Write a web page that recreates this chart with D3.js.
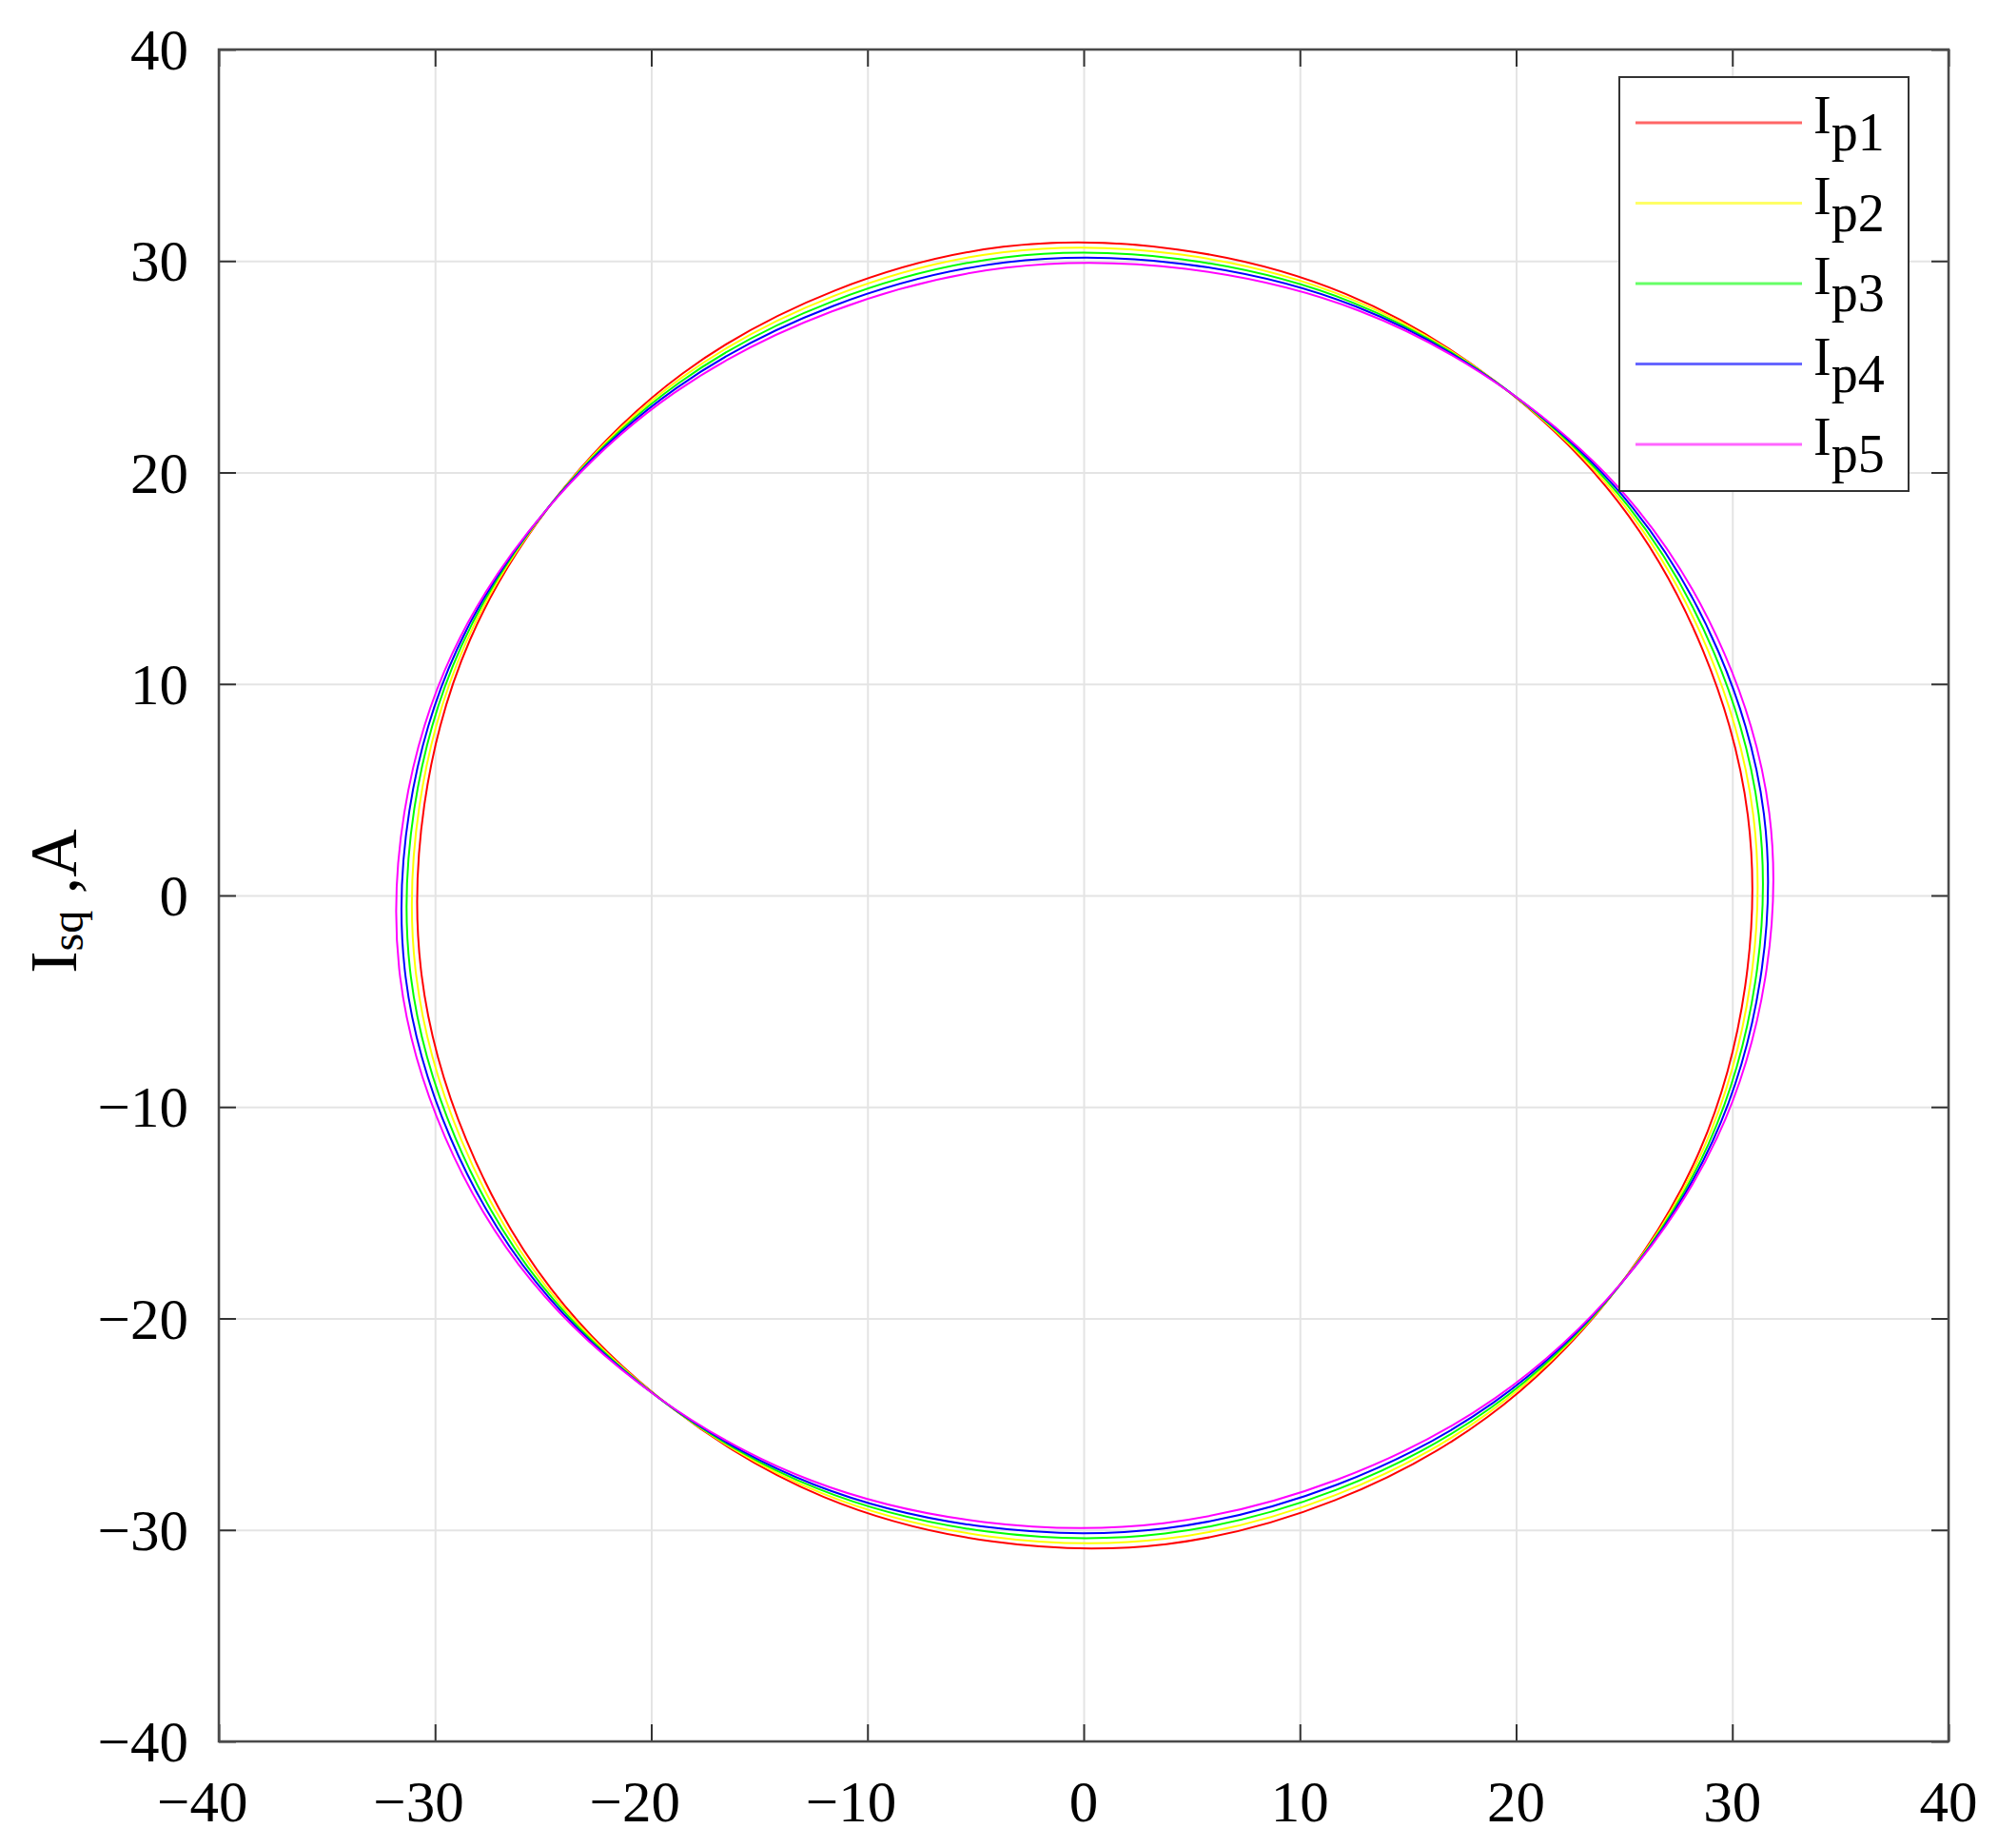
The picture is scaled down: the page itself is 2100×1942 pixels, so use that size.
<!DOCTYPE html>
<html>
<head>
<meta charset="utf-8">
<script src="https://cdn.jsdelivr.net/npm/d3@7"></script>
<style>
	body { margin: 0; background: #fff; }
	svg { display: block; }
	text { font-family: "Liberation Serif", "Times New Roman", serif; fill: #000; }
</style>
</head>
<body>
<div id="chart"></div>
<script>
// tick values
const xTicks = [-40, -30, -20, -10, 0, 10, 20, 30, 40];
const yTicks = [-40, -30, -20, -10, 0, 10, 20, 30, 40];

// series names / colours
const seriesNames = ["p1", "p2", "p3", "p4", "p5"];
const seriesColors = ["#ff0000", "#ffff00", "#00ff00", "#0000ff", "#ff00ff"];

// points (Isd, Isq), going round each loop
const ip1X = [30.72, 24.73, 12.12, -3.72, -18.55, -28.39, -30.62, -24.63, -12.02, 3.82, 18.65, 28.49];
const ip1Y = [3.77, 18.60, 28.44, 30.67, 24.68, 12.07, -3.77, -18.60, -28.44, -30.67, -24.68, -12.07];

const ip2X = [30.97, 24.96, 12.27, -3.69, -18.64, -28.59, -30.87, -24.86, -12.17, 3.79, 18.74, 28.69];
const ip2Y = [3.80, 18.50, 28.24, 30.42, 24.45, 11.92, -3.80, -18.50, -28.24, -30.42, -24.45, -11.92];

const ip3X = [31.22, 25.19, 12.43, -3.66, -18.74, -28.79, -31.12, -25.09, -12.33, 3.76, 18.84, 28.89];
const ip3Y = [3.83, 18.40, 28.04, 30.17, 24.22, 11.77, -3.83, -18.40, -28.04, -30.17, -24.22, -11.77];

const ip4X = [31.46, 25.42, 12.58, -3.62, -18.84, -28.99, -31.36, -25.32, -12.48, 3.72, 18.94, 29.09];
const ip4Y = [3.86, 18.30, 27.85, 29.93, 23.99, 11.62, -3.86, -18.30, -27.85, -29.93, -23.99, -11.62];

const ip5X = [31.71, 25.65, 12.73, -3.59, -18.94, -29.19, -31.61, -25.55, -12.63, 3.69, 19.04, 29.29];
const ip5Y = [3.89, 18.21, 27.65, 29.68, 23.76, 11.47, -3.89, -18.21, -27.65, -29.68, -23.76, -11.47];

const seriesX = [ip1X, ip2X, ip3X, ip4X, ip5X];
const seriesY = [ip1Y, ip2Y, ip3Y, ip4Y, ip5Y];

const series = seriesNames.map((name, i) => ({
	name: name,
	color: seriesColors[i],
	points: seriesX[i].map((x, j) => ({x: x, y: seriesY[i][j]}))
}));

const fullWidth = 2100, fullHeight = 1942;
const margin = {top: 52, right: 52, bottom: 112, left: 230};
const width = fullWidth - margin.left - margin.right,
	height = fullHeight - margin.top - margin.bottom;

const root = d3.select('#chart').append('svg')
	.attr('width', fullWidth)
	.attr('height', fullHeight);

root.append('rect')
	.attr('width', fullWidth)
	.attr('height', fullHeight)
	.attr('fill', '#fff');

const svg = root.append('g')
	.attr('transform', `translate(${margin.left}, ${margin.top})`);

const xScale = d3.scaleLinear().domain([-40, 40]).range([0, width]);
const yScale = d3.scaleLinear().domain([-40, 40]).range([height, 0]);

// grid
svg.append('g')
	.attr('class', 'grid')
	.attr('transform', `translate(0, ${height})`)
	.call(d3.axisBottom(xScale).tickValues(xTicks).tickSize(-height).tickFormat(''));
svg.append('g')
	.attr('class', 'grid')
	.call(d3.axisLeft(yScale).tickValues(yTicks).tickSize(-width).tickFormat(''));
svg.selectAll('.grid .domain').remove();
svg.selectAll('.grid line')
	.attr('stroke', '#e4e4e4')
	.attr('stroke-width', 2);

// curves
const line = d3.line()
	.x(d => xScale(d.x))
	.y(d => yScale(d.y))
	.curve(d3.curveCardinalClosed.tension(0));

svg.selectAll('path.curve')
	.data(series)
	.enter()
  .append('path')
	.attr('class', 'curve')
	.attr('d', d => line(d.points))
	.attr('fill', 'none')
	.attr('stroke', d => d.color)
	.attr('stroke-width', 2);

// frame + inward ticks on all four sides
const tickLen = -18;
svg.append('g').attr('class', 'ticks').attr('transform', `translate(0, ${height})`)
	.call(d3.axisBottom(xScale).tickValues(xTicks).tickSize(tickLen).tickFormat(''));
svg.append('g').attr('class', 'ticks')
	.call(d3.axisTop(xScale).tickValues(xTicks).tickSize(tickLen).tickFormat(''));
svg.append('g').attr('class', 'ticks')
	.call(d3.axisLeft(yScale).tickValues(yTicks).tickSize(tickLen).tickFormat(''));
svg.append('g').attr('class', 'ticks').attr('transform', `translate(${width}, 0)`)
	.call(d3.axisRight(yScale).tickValues(yTicks).tickSize(tickLen).tickFormat(''));
svg.selectAll('.ticks .domain').remove();
svg.selectAll('.ticks line')
	.attr('stroke', '#333')
	.attr('stroke-width', 2);

svg.append('rect')
	.attr('width', width)
	.attr('height', height)
	.attr('fill', 'none')
	.attr('stroke', '#4a4a4a')
	.attr('stroke-width', 2.5);

// tick labels: digits centred on the tick, minus hangs to the left
const fs = 61;
const fmt = v => (v < 0 ? '\u2212' : '') + Math.abs(v);
const digitHalf = v => String(Math.abs(v)).length * fs * 0.25;

svg.append('g').selectAll('text')
	.data(xTicks)
	.enter()
  .append('text')
	.attr('x', d => xScale(d) + digitHalf(d))
	.attr('y', height + 84)
	.attr('text-anchor', 'end')
	.style('font-size', fs + 'px')
	.text(fmt);

svg.append('g').selectAll('text')
	.data(yTicks)
	.enter()
  .append('text')
	.attr('x', -32)
	.attr('y', d => yScale(d) + 21)
	.attr('text-anchor', 'end')
	.style('font-size', fs + 'px')
	.text(fmt);

// y axis title
const yTitle = root.append('text')
	.attr('transform', `translate(80, ${margin.top + height / 2 + 6}) rotate(-90)`)
	.attr('text-anchor', 'middle')
	.style('font-size', '70px');
yTitle.append('tspan').text('I');
yTitle.append('tspan').attr('dy', 7).style('font-size', '48px').text('sq');
yTitle.append('tspan').attr('dy', -7).text(' ,A');

// legend
const legX = width - 346, legY = 29, legW = 304, legH = 435;
const legend = svg.append('g').attr('transform', `translate(${legX}, ${legY})`);
legend.append('rect')
	.attr('width', legW)
	.attr('height', legH)
	.attr('fill', '#fff')
	.attr('stroke', '#333')
	.attr('stroke-width', 2);

const rows = legend.selectAll('g.row')
	.data(series)
	.enter()
  .append('g')
	.attr('class', 'row')
	.attr('transform', (d, i) => `translate(0, ${48 + i * 84.5})`);

rows.append('line')
	.attr('x1', 17)
	.attr('x2', 192)
	.attr('stroke', d => d.color)
	.attr('stroke-opacity', 0.6)
	.attr('stroke-width', 3);

const labels = rows.append('text')
	.attr('x', 204)
	.attr('y', 11)
	.style('font-size', '56px');
labels.append('tspan').text('I');
labels.append('tspan').attr('dy', 18).text(d => d.name);
</script>
</body>
</html>
